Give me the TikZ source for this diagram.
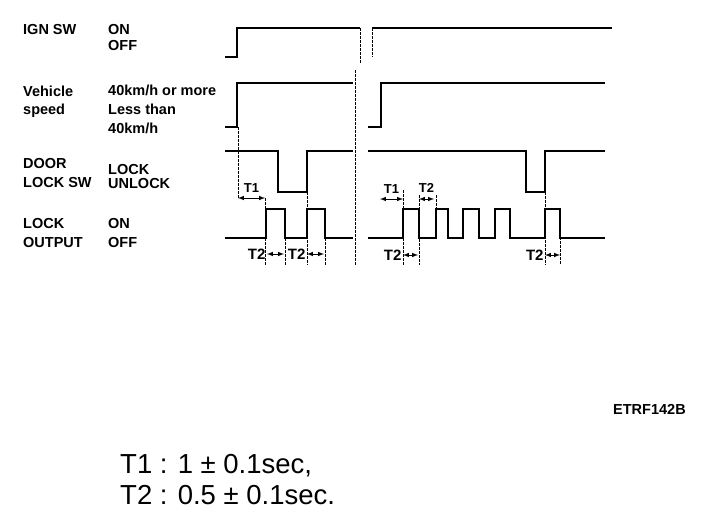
\documentclass[tikz,border=0pt]{standalone}
\usepackage{fontspec}
\setmainfont{Liberation Sans}
\begin{document}
\begin{tikzpicture}[x=1pt,y=-1pt,font={\fontsize{14.5}{16}\selectfont\bfseries},
  wave/.style={line width=2.3pt,line join=miter},
  guide/.style={line width=0.7pt,dash pattern=on 2.5pt off 1.5pt},
  span/.style={<->,>=latex,line width=1pt},
  lbl/.style={anchor=base west,inner sep=0pt},
  tlbl/.style={inner sep=0pt,font={\fontsize{13}{14}\selectfont\bfseries}},
  blbl/.style={inner sep=0pt,font={\fontsize{15}{16}\selectfont\bfseries}}]
\useasboundingbox (0,0) rectangle (704,528);

% signal names and levels
\node[lbl] (ign) at (23,34.5) {IGN SW};
\node[lbl] (ignon) at (108,34.5) {ON};
\node[lbl] (ignoff) at (108,50) {OFF};
\node[lbl] (veh) at (23,96) {Vehicle};
\node[lbl] (spd) at (23,114) {speed};
\node[lbl] (fast) at (108,95) {40km/h or more};
\node[lbl] (less) at (108,114) {Less than};
\node[lbl] (slow) at (108,133) {40km/h};
\node[lbl] (door) at (23,168) {DOOR};
\node[lbl] (locksw) at (23,187) {LOCK SW};
\node[lbl] (lock) at (108,174) {LOCK};
\node[lbl] (unlock) at (108,188) {UNLOCK};
\node[lbl] (lockout) at (23,228) {LOCK};
\node[lbl] (output) at (23,247) {OUTPUT};
\node[lbl] (outon) at (108,228) {ON};
\node[lbl] (outoff) at (108,247) {OFF};

% guides
\draw[guide] (238,127) -- (238,198);
\draw[guide] (265,198) -- (265,265);
\draw[guide] (285,238) -- (285,265);
\draw[guide] (307,192) -- (307,265);
\draw[guide] (325,238) -- (325,265);
\draw[guide] (355,70) -- (355,265);
\draw[guide] (360,28) -- (360,64);
\draw[guide] (372,28) -- (372,57);
\draw[guide] (403,190) -- (403,265);
\draw[guide] (419,195) -- (419,265);
\draw[guide] (436,195) -- (436,209);
\draw[guide] (545,192) -- (545,265);
\draw[guide] (560,209) -- (560,265);

% waveforms, before the break
\draw[wave] (225,57) -- (237,57) -- (237,28) -- (360,28);
\draw[wave] (225,127) -- (237,127) -- (237,83) -- (353,83);
\draw[wave] (225,151) -- (278,151) -- (278,192) -- (307,192) -- (307,151) -- (353,151);
\draw[wave] (225,238) -- (266,238) -- (266,209) -- (285,209) -- (285,238)
  -- (307,238) -- (307,209) -- (325,209) -- (325,238) -- (353,238);

% waveforms, after the break
\draw[wave] (372,28) -- (612,28);
\draw[wave] (368,127) -- (381,127) -- (381,83) -- (605,83);
\draw[wave] (368,151) -- (526,151) -- (526,192) -- (545,192) -- (545,151) -- (605,151);
\draw[wave] (368,238) -- (403,238) -- (403,209) -- (419,209) -- (419,238)
  -- (436,238) -- (436,209) -- (448,209) -- (448,238)
  -- (463,238) -- (463,209) -- (479,209) -- (479,238)
  -- (495,238) -- (495,209) -- (510,209) -- (510,238)
  -- (545,238) -- (545,209) -- (560,209) -- (560,238) -- (605,238);

% times
\coordinate (t1a) at (238,198);
\coordinate (t1b) at (265,198);
\coordinate (t2a) at (267,254);
\coordinate (t2b) at (284,254);
\coordinate (t2c) at (307,254);
\coordinate (t2d) at (324,254);
\coordinate (t1c) at (380,199);
\coordinate (t1d) at (403,199);
\coordinate (t2e) at (419,199);
\coordinate (t2f) at (434,199);
\coordinate (t2g) at (403,255);
\coordinate (t2h) at (418,255);
\coordinate (t2i) at (545,255);
\coordinate (t2j) at (560,255);

\draw[span] (t1a) to node[tlbl,above=5pt] (lt1a) {T1} (t1b);
\draw[span] (t2a) to node[blbl,at start,left=1pt] (lt2a) {T2} (t2b);
\draw[span] (t2c) to node[blbl,at start,left=1pt] (lt2b) {T2} (t2d);
\draw[span] (t1c) to node[tlbl,above=5pt] (lt1b) {T1} (t1d);
\draw[span] (t2e) to node[tlbl,above=6pt] (lt2c) {T2} (t2f);
\draw[span] (t2g) to node[blbl,at start,left=1pt] (lt2d) {T2} (t2h);
\draw[span] (t2i) to node[blbl,at start,left=1pt] (lt2e) {T2} (t2j);

% figure code and legend
\node[lbl] (code) at (613,414) {ETRF142B};
\node[lbl,font={\fontsize{27.5}{30}\selectfont}] (leg1) at (120,473) {T1 : 1 ± 0.1sec,};
\node[lbl,font={\fontsize{27.5}{30}\selectfont}] (leg2) at (120,504) {T2 : 0.5 ± 0.1sec.};
\end{tikzpicture}
\end{document}
